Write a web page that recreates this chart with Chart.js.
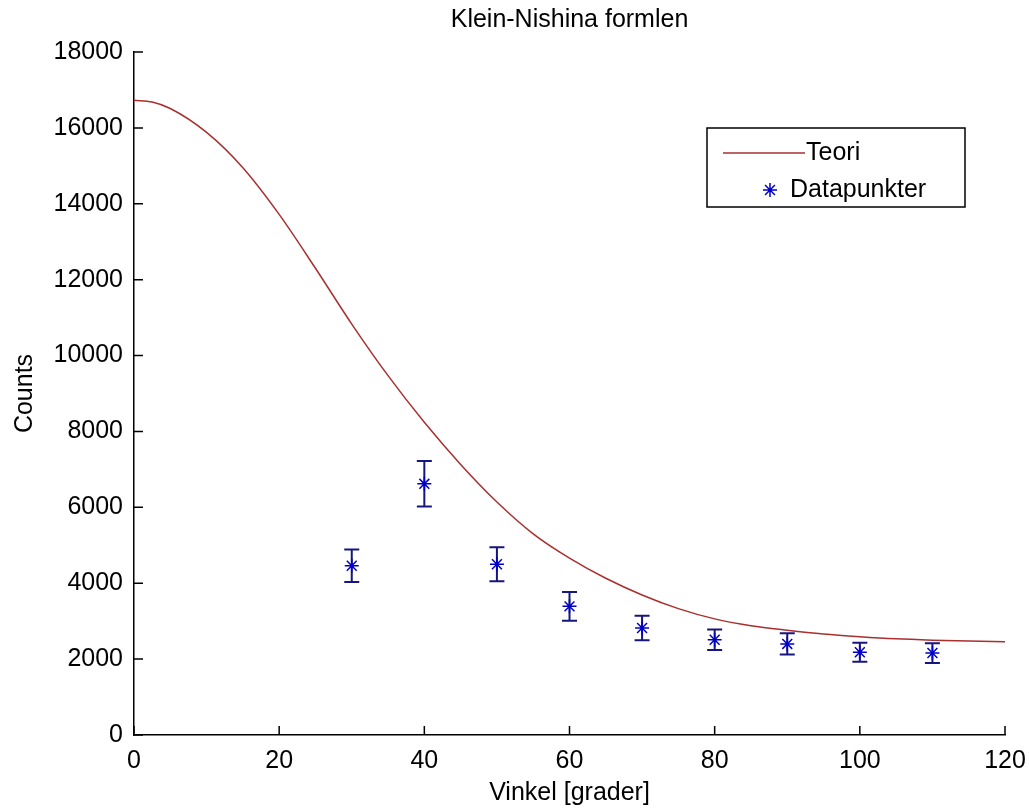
<!DOCTYPE html>
<html>
<head>
<meta charset="utf-8">
<script src="https://cdn.jsdelivr.net/npm/chart.js@4.4.1/dist/chart.umd.min.js"></script>
<style>
  html, body { margin: 0; padding: 0; background: #fff; }
  #chart { display: block; }
</style>
</head>
<body>
<canvas id="chart" width="1029" height="812"></canvas>
<script>
// theory curve (every 5 degrees)
const theoryAngles = [0, 2.5, 5, 10, 15, 20, 25, 30, 35, 40, 45, 50, 55, 60, 65, 70, 75, 80, 85, 90, 95, 100, 105, 110, 115, 120];
const theoryCounts = [16730, 16680, 16510, 15880, 14950, 13720, 12300, 10830, 9470, 8240, 7130, 6140, 5300, 4660, 4130, 3690, 3330, 3060, 2880, 2760, 2660, 2590, 2535, 2500, 2475, 2460];

// measured points with error bars
const dataAngles = [30, 40, 50, 60, 70, 80, 90, 100, 110];
const dataCounts = [4460, 6620, 4500, 3390, 2820, 2510, 2400, 2180, 2160];
const dataErrors = [430, 600, 450, 380, 320, 270, 280, 250, 260];

const xTickStep = 20;
const yTickStep = 2000;

const FONT = "'Liberation Sans', Arial, Helvetica, sans-serif";
const lineColor = '#a8302f';
const starColor = '#0000c8';
const barColor = '#16167e';

function points(xs, ys) {
    return xs.map((x, i) => ({ x: x, y: ys[i] }));
}

const whiteBg = {
    id: 'whiteBg',
    beforeDraw(chart) {
        const ctx = chart.ctx;
        ctx.save();
        ctx.fillStyle = '#fff';
        ctx.fillRect(0, 0, chart.width, chart.height);
        ctx.restore();
    }
};

// inward tick marks, like the original plot
const innerTicks = {
    id: 'innerTicks',
    afterDraw(chart) {
        const { ctx, chartArea, scales } = chart;
        const len = 9;
        ctx.save();
        ctx.strokeStyle = '#000';
        ctx.lineWidth = 1.5;
        ctx.beginPath();
        for (const t of scales.x.ticks) {
            const px = scales.x.getPixelForValue(t.value);
            ctx.moveTo(px, chartArea.bottom);
            ctx.lineTo(px, chartArea.bottom - len);
        }
        for (const t of scales.y.ticks) {
            const py = scales.y.getPixelForValue(t.value);
            ctx.moveTo(chartArea.left, py);
            ctx.lineTo(chartArea.left + len, py);
        }
        ctx.stroke();
        ctx.restore();
    }
};

const errorBars = {
    id: 'errorBars',
    beforeDatasetsDraw(chart) {
        const { ctx, scales } = chart;
        const cap = 7.5;
        ctx.save();
        ctx.strokeStyle = barColor;
        ctx.lineWidth = 2;
        ctx.beginPath();
        dataAngles.forEach((a, i) => {
            const px = scales.x.getPixelForValue(a);
            const top = scales.y.getPixelForValue(dataCounts[i] + dataErrors[i]);
            const bot = scales.y.getPixelForValue(dataCounts[i] - dataErrors[i]);
            ctx.moveTo(px, top); ctx.lineTo(px, bot);
            ctx.moveTo(px - cap, top); ctx.lineTo(px + cap, top);
            ctx.moveTo(px - cap, bot); ctx.lineTo(px + cap, bot);
        });
        ctx.stroke();
        ctx.restore();
    }
};

// legend box inside the plot, upper right
const boxLegend = {
    id: 'boxLegend',
    afterDraw(chart) {
        const { ctx, chartArea } = chart;
        const x0 = chartArea.right - 298, y0 = chartArea.top + 76;
        const w = 258, h = 79;
        ctx.save();
        ctx.fillStyle = '#fff';
        ctx.fillRect(x0, y0, w, h);
        ctx.strokeStyle = '#000';
        ctx.lineWidth = 1.5;
        ctx.strokeRect(x0, y0, w, h);

        ctx.strokeStyle = lineColor;
        ctx.lineWidth = 1.5;
        ctx.beginPath();
        ctx.moveTo(x0 + 16, y0 + 25);
        ctx.lineTo(x0 + 98, y0 + 25);
        ctx.stroke();

        ctx.strokeStyle = starColor;
        ctx.fillStyle = starColor;
        ctx.lineWidth = 1.5;
        Chart.helpers.drawPoint(ctx, {
            pointStyle: 'star', radius: 7, borderWidth: 1.5, rotation: 0
        }, x0 + 63, y0 + 62);

        ctx.fillStyle = '#000';
        ctx.font = '25px ' + FONT;
        ctx.textBaseline = 'middle';
        ctx.textAlign = 'left';
        ctx.fillText('Teori', x0 + 99, y0 + 25);
        ctx.fillText('Datapunkter', x0 + 83, y0 + 62);
        ctx.restore();
    }
};

const tickFont = { family: FONT, size: 25 };

new Chart(document.getElementById('chart'), {
    type: 'line',
    data: {
        datasets: [
            {
                label: 'Teori',
                data: points(theoryAngles, theoryCounts),
                borderColor: lineColor,
                borderWidth: 1.5,
                pointRadius: 0,
                cubicInterpolationMode: 'monotone',
                fill: false
            },
            {
                label: 'Datapunkter',
                data: points(dataAngles, dataCounts),
                showLine: false,
                pointStyle: 'star',
                pointRadius: 7,
                pointBorderWidth: 1.5,
                pointBorderColor: starColor,
                pointBackgroundColor: starColor
            }
        ]
    },
    options: {
        responsive: false,
        animation: false,
        layout: { padding: { left: 0, right: 24, top: 0, bottom: 0 } },
        plugins: {
            legend: { display: false },
            tooltip: { enabled: false },
            title: {
                display: true,
                fullSize: false,
                text: 'Klein-Nishina formlen',
                color: '#000',
                font: { family: FONT, size: 25, weight: 'normal' },
                padding: { top: 5, bottom: 17 }
            }
        },
        scales: {
            x: {
                type: 'linear',
                min: 0,
                max: 120,
                afterFit(s) { s.height = 77; s.paddingLeft = 0; s.paddingRight = 0; },
                ticks: { stepSize: xTickStep, color: '#000', font: tickFont, padding: 11, maxRotation: 0 },
                grid: { display: false, drawTicks: false },
                border: { display: true, color: '#000', width: 1.5 },
                title: {
                    display: true,
                    text: 'Vinkel [grader]',
                    color: '#000',
                    font: tickFont,
                    padding: { top: 0, bottom: 4 }
                }
            },
            y: {
                min: 0,
                max: 18000,
                afterFit(s) { s.width = 134; s.paddingTop = 0; s.paddingBottom = 0; },
                ticks: {
                    stepSize: yTickStep, color: '#000', font: tickFont, padding: 11,
                    callback: (v) => String(v)
                },
                grid: { display: false, drawTicks: false },
                border: { display: true, color: '#000', width: 1.5 },
                title: {
                    display: true,
                    text: 'Counts',
                    color: '#000',
                    font: tickFont,
                    padding: { top: 10, bottom: 0 }
                }
            }
        }
    },
    plugins: [whiteBg, errorBars, innerTicks, boxLegend]
});
</script>
</body>
</html>
